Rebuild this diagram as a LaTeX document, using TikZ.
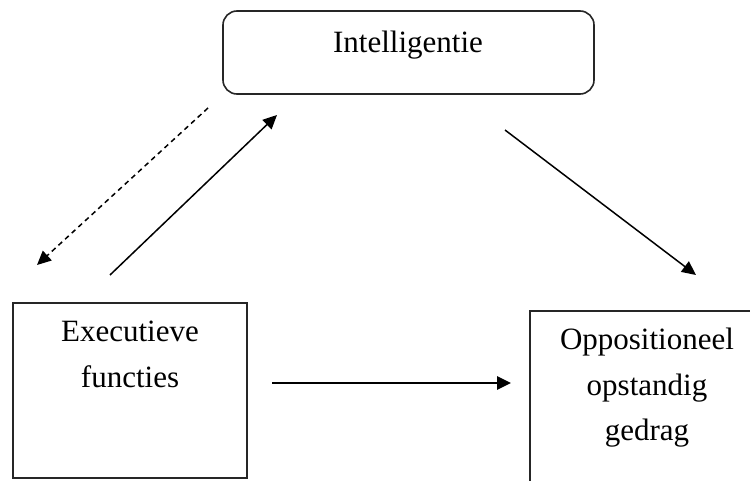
\documentclass[tikz,border=0pt]{standalone}
\usepackage{fontspec}
\setmainfont{Liberation Serif}
\usetikzlibrary{arrows.meta,positioning}

\begin{document}
\begin{tikzpicture}[
  x=1pt, y=-1pt,
  vak/.style={rectangle, draw=black!85, line width=1.6pt, inner sep=0pt},
  tekst/.style={align=center, inner sep=0pt, anchor=north,
                font=\fontsize{31}{45.5}\selectfont},
  pijl/.style={-{Triangle[length=14pt, width=13pt]}, line width=1.5pt},
  gestreept/.style={pijl, dash pattern=on 5pt off 4pt}
]
\useasboundingbox (0,0) rectangle (750,481);

% de drie vakken
\node[vak, rounded corners=14pt, minimum width=371pt, minimum height=83pt]
  (intel) at (408.5, 52.5) {};
\node[vak, minimum width=234pt, minimum height=175pt] (exf) at (130, 390.5) {};
\node[vak, minimum width=260pt, minimum height=210pt] (odg) at (660, 416) {};

\node[tekst] (inteltxt) at (408, 31) {Intelligentie};
\node[tekst] (exftxt) at (130, 321) {Executieve\\functies};
\node[tekst] (odgtxt) at (647, 328) {Oppositioneel\\opstandig\\gedrag};

% losse eindpunten van de pijlen
\coordinate (d1) at (208, 108);
\coordinate (d2) at (37, 265);
\coordinate (u1) at (110, 275);
\coordinate (u2) at (277, 115);
\coordinate (r1) at (505, 130);
\coordinate (r2) at (696, 275);
\coordinate (h1) at (272, 383);
\coordinate (h2) at (511, 383);

\draw[gestreept] (d1) -- (d2);
\draw[pijl] (u1) -- (u2);
\draw[pijl] (r1) -- (r2);
\draw[pijl, line width=2.6pt] (h1) -- (h2);

\end{tikzpicture}
\end{document}
